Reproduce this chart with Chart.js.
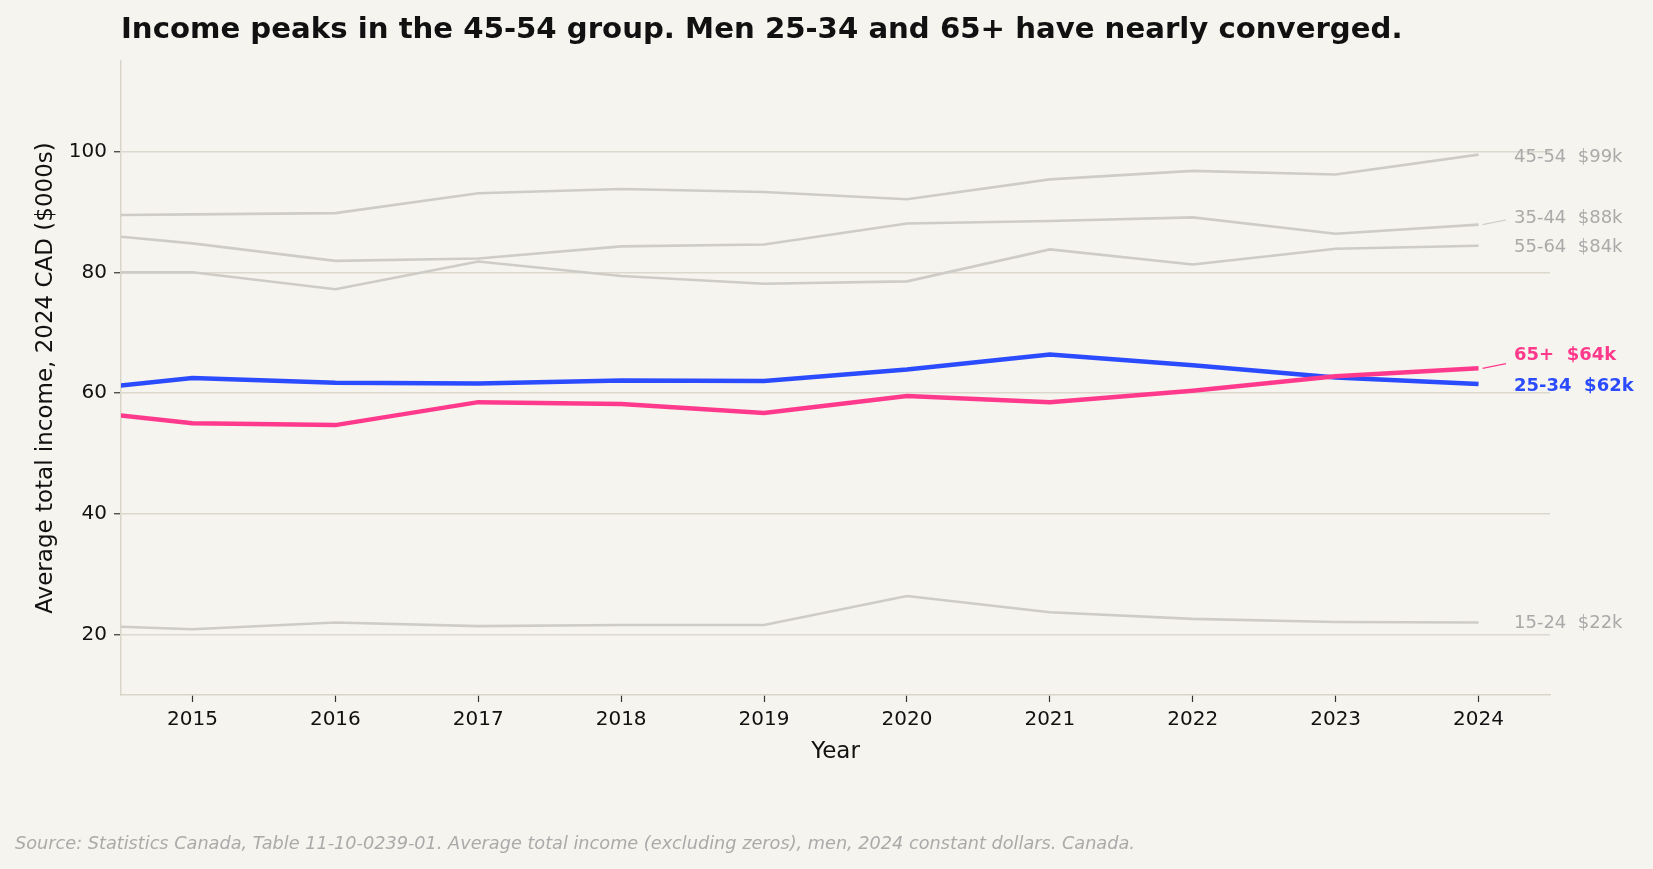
<!DOCTYPE html>
<html>
<head>
<meta charset="utf-8">
<script src="https://cdn.jsdelivr.net/npm/chart.js@4.4.1/dist/chart.umd.min.js"></script>
<style>
  html, body { margin: 0; padding: 0; background: #f6f4ee; }
  #wrap { width: 1653px; height: 869px; position: relative; }
</style>
</head>
<body>
<div id="wrap"><canvas id="incomeChart"></canvas></div>
<script>
  'use strict';

  // Average total income, men, $000s (2024 constant dollars)
  var years = [2014, 2015, 2016, 2017, 2018, 2019, 2020, 2021, 2022, 2023, 2024];
  var age1524 = [21.7, 20.9, 22.0, 21.4, 21.6, 21.6, 26.4, 23.7, 22.6, 22.1, 22.0];
  var age2534 = [60.0, 62.5, 61.7, 61.6, 62.1, 62.0, 63.9, 66.4, 64.6, 62.6, 61.5];
  var age3544 = [87.0, 84.8, 81.9, 82.3, 84.3, 84.6, 88.1, 88.5, 89.1, 86.4, 87.9];
  var age4554 = [89.4, 89.6, 89.8, 93.1, 93.8, 93.3, 92.1, 95.4, 96.8, 96.2, 99.5];
  var age5564 = [80.0, 80.0, 77.2, 81.8, 79.4, 78.1, 78.5, 83.8, 81.3, 83.9, 84.4];
  var age65plus = [57.6, 55.0, 54.7, 58.5, 58.2, 56.7, 59.5, 58.5, 60.4, 62.8, 64.1];

  var xTickYears = [2015, 2016, 2017, 2018, 2019, 2020, 2021, 2022, 2023, 2024];
  var yTickValues = [20, 40, 60, 80, 100];

  var GRAY = '#cfccc7';
  var BLUE = '#2b4bff';
  var PINK = '#ff3a8c';
  var FONT = '"DejaVu Sans", "Liberation Sans", sans-serif';

  function points(values) {
    return values.map(function (v, i) { return { x: years[i], y: v }; });
  }

  // end-of-line labels; y is where the text sits (value units)
  var endLabels = [
    { text: '45-54  $99k', series: age4554, y: 99.0, color: '#aaaaaa', bold: false },
    { text: '35-44  $88k', series: age3544, y: 89.0, color: '#aaaaaa', bold: false, line: GRAY, lineOff: 2 },
    { text: '55-64  $84k', series: age5564, y: 84.1, color: '#aaaaaa', bold: false },
    { text: '65+  $64k', series: age65plus, y: 66.2, color: PINK, bold: true, line: PINK, lineOff: 8 },
    { text: '25-34  $62k', series: age2534, y: 61.2, color: BLUE, bold: true },
    { text: '15-24  $22k', series: age1524, y: 21.8, color: '#aaaaaa', bold: false }
  ];

  var textPlugin = {
    id: 'chartText',
    afterDatasetsDraw: function (chart) {
      var c = chart.ctx;
      var xs = chart.scales.x;
      var ys = chart.scales.y;
      var area = chart.chartArea;
      c.save();

      // end labels
      var labelX = 1514;
      endLabels.forEach(function (l) {
        var ly = ys.getPixelForValue(l.y);
        if (l.line) {
          var ex = xs.getPixelForValue(2024);
          var ey = ys.getPixelForValue(l.series[l.series.length - 1]);
          c.strokeStyle = l.line;
          c.lineWidth = 1.2;
          c.beginPath();
          c.moveTo(ex + 4, ey);
          c.lineTo(labelX - 8, ly + l.lineOff);
          c.stroke();
        }
        c.fillStyle = l.color;
        c.font = (l.bold ? 'bold ' : '') + '18px ' + FONT;
        c.textAlign = 'left';
        c.textBaseline = 'middle';
        c.fillText(l.text, labelX, ly);
      });

      // title
      c.fillStyle = '#111111';
      c.font = 'bold 29.2px ' + FONT;
      c.textAlign = 'left';
      c.textBaseline = 'alphabetic';
      c.fillText('Income peaks in the 45-54 group. Men 25-34 and 65+ have nearly converged.', area.left, 38);

      // axis titles
      c.fillStyle = '#111111';
      c.font = '23px ' + FONT;
      c.textAlign = 'center';
      c.textBaseline = 'middle';
      c.fillText('Year', (area.left + area.right) / 2, 752);
      c.save();
      c.translate(46, (area.top + area.bottom) / 2);
      c.rotate(-Math.PI / 2);
      c.fillText('Average total income, 2024 CAD ($000s)', 0, 0);
      c.restore();

      // source
      c.fillStyle = '#aaaaaa';
      c.font = 'italic 17.7px ' + FONT;
      c.textAlign = 'left';
      c.textBaseline = 'alphabetic';
      c.fillText('Source: Statistics Canada, Table 11-10-0239-01. Average total income (excluding zeros), men, 2024 constant dollars. Canada.', 15, 849);

      c.restore();
    }
  };

  var bgPlugin = {
    id: 'bg',
    beforeDraw: function (chart) {
      var c = chart.ctx;
      c.save();
      c.fillStyle = '#f6f4ee';
      c.fillRect(0, 0, chart.width, chart.height);
      c.restore();
    }
  };

  function grayLine(label, values) {
    return {
      label: label,
      data: points(values),
      borderColor: GRAY,
      borderWidth: 2.6,
      pointRadius: 0,
      tension: 0,
      order: 3
    };
  }

  var ctx = document.getElementById('incomeChart');

  new Chart(ctx, {
    type: 'line',
    data: {
      datasets: [
        {
          label: '65+',
          data: points(age65plus),
          borderColor: PINK,
          borderWidth: 4.5,
          pointRadius: 0,
          tension: 0,
          order: 1
        },
        {
          label: '25-34',
          data: points(age2534),
          borderColor: BLUE,
          borderWidth: 4.5,
          pointRadius: 0,
          tension: 0,
          order: 2
        },
        grayLine('15-24', age1524),
        grayLine('35-44', age3544),
        grayLine('45-54', age4554),
        grayLine('55-64', age5564)
      ]
    },
    plugins: [bgPlugin, textPlugin],
    options: {
      responsive: true,
      maintainAspectRatio: false,
      animation: false,
      layout: {
        padding: { top: 61, right: 103, bottom: 114, left: 0 }
      },
      plugins: {
        legend: { display: false },
        tooltip: { enabled: false }
      },
      scales: {
        x: {
          type: 'linear',
          min: 2014.5,
          max: 2024.5,
          afterBuildTicks: function (scale) {
            scale.ticks = xTickYears.map(function (v) { return { value: v }; });
          },
          afterFit: function (scale) { scale.height = 60; },
          ticks: {
            color: '#111111',
            font: { family: FONT, size: 20 },
            padding: 6,
            maxRotation: 0,
            autoSkip: false,
            callback: function (v) { return String(v); }
          },
          grid: {
            drawOnChartArea: false,
            drawTicks: true,
            tickLength: 7,
            tickColor: '#333333',
            tickWidth: 1.2
          },
          border: { color: '#d9d5ca', width: 1.5 }
        },
        y: {
          min: 10,
          max: 115,
          afterBuildTicks: function (scale) {
            scale.ticks = yTickValues.map(function (v) { return { value: v }; });
          },
          afterFit: function (scale) { scale.width = 121; },
          ticks: {
            color: '#111111',
            font: { family: FONT, size: 20 },
            padding: 7
          },
          grid: {
            color: '#dcd8cd',
            lineWidth: 1.5,
            tickLength: 7,
            tickColor: '#333333',
            tickWidth: 1.2
          },
          border: { color: '#d9d5ca', width: 1.5 }
        }
      }
    }
  });
</script>
</body>
</html>
